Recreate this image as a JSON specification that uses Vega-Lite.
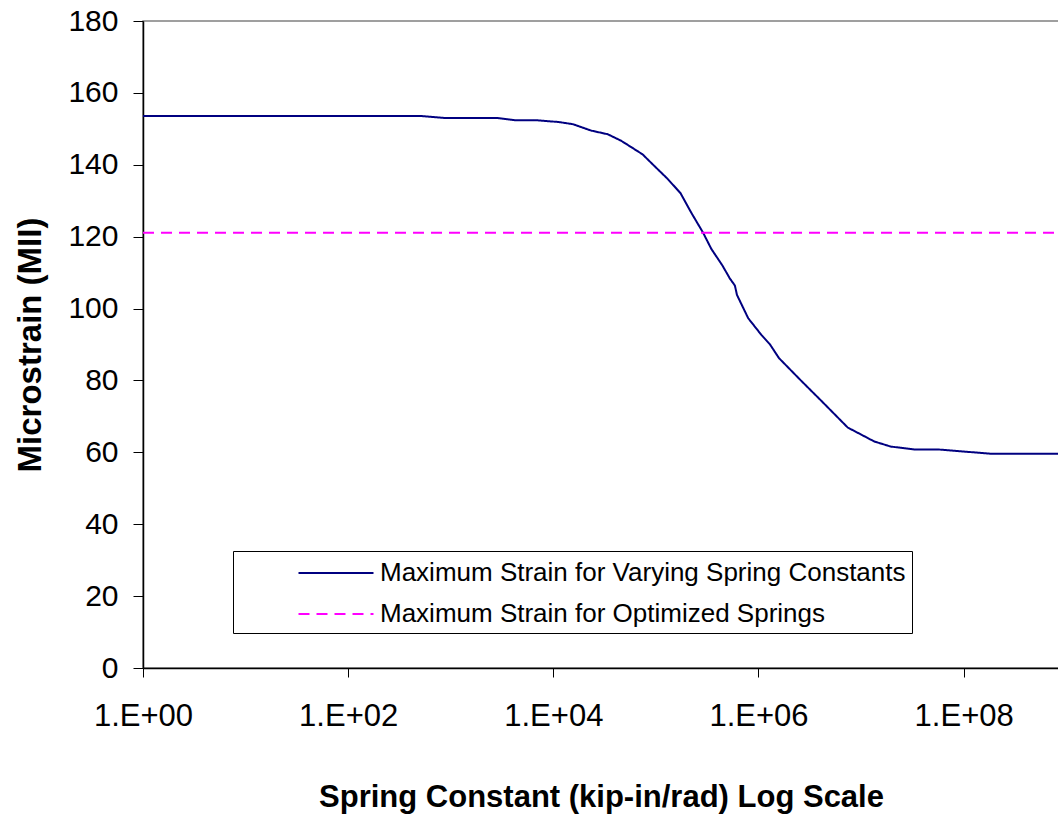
{
  "$schema": "https://vega.github.io/schema/vega-lite/v6.json",
  "width": 916,
  "height": 647,
  "autosize": {"type": "none"},
  "padding": {"left": 143, "top": 21, "right": 0, "bottom": 150},
  "background": "white",
  "config": {
    "view": {"stroke": "#808080", "strokeWidth": 1.5},
    "font": "Liberation Sans",
    "axis": {"grid": false, "domainColor": "#000", "tickColor": "#000", "labelColor": "#000", "titleColor": "#000", "labelFont": "Liberation Sans", "titleFont": "Liberation Sans"}
  },
  "data": {"values": [
    {"k": 1, "v": 153.6, "series": "Maximum Strain for Varying Spring Constants"},
    {"k": 10, "v": 153.6, "series": "Maximum Strain for Varying Spring Constants"},
    {"k": 100, "v": 153.6, "series": "Maximum Strain for Varying Spring Constants"},
    {"k": 501, "v": 153.6, "series": "Maximum Strain for Varying Spring Constants"},
    {"k": 891, "v": 153.0, "series": "Maximum Strain for Varying Spring Constants"},
    {"k": 2884, "v": 153.0, "series": "Maximum Strain for Varying Spring Constants"},
    {"k": 4266, "v": 152.4, "series": "Maximum Strain for Varying Spring Constants"},
    {"k": 6761, "v": 152.4, "series": "Maximum Strain for Varying Spring Constants"},
    {"k": 11220, "v": 151.9, "series": "Maximum Strain for Varying Spring Constants"},
    {"k": 15488, "v": 151.3, "series": "Maximum Strain for Varying Spring Constants"},
    {"k": 23442, "v": 149.5, "series": "Maximum Strain for Varying Spring Constants"},
    {"k": 33884, "v": 148.5, "series": "Maximum Strain for Varying Spring Constants"},
    {"k": 45709, "v": 146.7, "series": "Maximum Strain for Varying Spring Constants"},
    {"k": 57544, "v": 144.9, "series": "Maximum Strain for Varying Spring Constants"},
    {"k": 74131, "v": 142.9, "series": "Maximum Strain for Varying Spring Constants"},
    {"k": 95499, "v": 139.8, "series": "Maximum Strain for Varying Spring Constants"},
    {"k": 128825, "v": 136.2, "series": "Maximum Strain for Varying Spring Constants"},
    {"k": 173780, "v": 132.1, "series": "Maximum Strain for Varying Spring Constants"},
    {"k": 218776, "v": 126.9, "series": "Maximum Strain for Varying Spring Constants"},
    {"k": 288403, "v": 121.1, "series": "Maximum Strain for Varying Spring Constants"},
    {"k": 346737, "v": 116.6, "series": "Maximum Strain for Varying Spring Constants"},
    {"k": 446684, "v": 111.9, "series": "Maximum Strain for Varying Spring Constants"},
    {"k": 524807, "v": 108.4, "series": "Maximum Strain for Varying Spring Constants"},
    {"k": 588844, "v": 106.4, "series": "Maximum Strain for Varying Spring Constants"},
    {"k": 616595, "v": 103.8, "series": "Maximum Strain for Varying Spring Constants"},
    {"k": 794328, "v": 97.3, "series": "Maximum Strain for Varying Spring Constants"},
    {"k": 1071519, "v": 92.6, "series": "Maximum Strain for Varying Spring Constants"},
    {"k": 1288250, "v": 90.1, "series": "Maximum Strain for Varying Spring Constants"},
    {"k": 1584893, "v": 86.2, "series": "Maximum Strain for Varying Spring Constants"},
    {"k": 2630268, "v": 79.8, "series": "Maximum Strain for Varying Spring Constants"},
    {"k": 4073803, "v": 74.4, "series": "Maximum Strain for Varying Spring Constants"},
    {"k": 7413102, "v": 66.9, "series": "Maximum Strain for Varying Spring Constants"},
    {"k": 13489629, "v": 63.0, "series": "Maximum Strain for Varying Spring Constants"},
    {"k": 19498446, "v": 61.6, "series": "Maximum Strain for Varying Spring Constants"},
    {"k": 33113112, "v": 60.8, "series": "Maximum Strain for Varying Spring Constants"},
    {"k": 56234133, "v": 60.8, "series": "Maximum Strain for Varying Spring Constants"},
    {"k": 186208714, "v": 59.6, "series": "Maximum Strain for Varying Spring Constants"},
    {"k": 850000000, "v": 59.6, "series": "Maximum Strain for Varying Spring Constants"},
    {"k": 1, "v": 121.1, "series": "Maximum Strain for Optimized Springs"},
    {"k": 850000000, "v": 121.1, "series": "Maximum Strain for Optimized Springs"}
  ]},
  "mark": {"type": "line", "strokeWidth": 2, "clip": true},
  "encoding": {
    "x": {
      "field": "k", "type": "quantitative",
      "scale": {"type": "log", "domain": [1, 850000000], "nice": false},
      "axis": {
        "values": [1, 100, 10000, 1000000, 100000000],
        "labelExpr": "'1.E+' + format(round(log(datum.value)/LN10), '02d')",
        "labelFlush": false, "labelOverlap": false,
        "tickSize": 9, "labelPadding": 24, "labelFontSize": 31,
        "title": "Spring Constant (kip-in/rad) Log Scale",
        "titleFontSize": 31, "titleFontWeight": "bold", "titlePadding": 51,
        "domainWidth": 1.5
      }
    },
    "y": {
      "field": "v", "type": "quantitative",
      "scale": {"domain": [0, 180], "nice": false},
      "axis": {
        "values": [0, 20, 40, 60, 80, 100, 120, 140, 160, 180],
        "tickSize": 10, "labelPadding": 15, "labelFontSize": 30,
        "title": "Microstrain (MII)", "titleFontSize": 33, "titleFontWeight": "bold",
        "titlePadding": 20, "domainWidth": 1.5
      }
    },
    "color": {
      "field": "series", "type": "nominal",
      "sort": ["Maximum Strain for Varying Spring Constants", "Maximum Strain for Optimized Springs"],
      "scale": {"domain": ["Maximum Strain for Varying Spring Constants", "Maximum Strain for Optimized Springs"], "range": ["#000080", "#FF00FF"]},
      "legend": {
        "title": null, "orient": "none", "legendX": 90, "legendY": 530,
        "direction": "vertical",
        "symbolType": "M-2.5,0H2.5", "symbolSize": 900, "symbolStrokeWidth": 2,
        "symbolOffset": 81, "labelOffset": 28,
        "rowPadding": 12,
        "labelFontSize": 26, "labelFont": "Liberation Sans", "labelColor": "#000",
        "labelLimit": 800,
        "strokeColor": "#000", "fillColor": "white", "padding": 6
      }
    },
    "strokeDash": {
      "field": "series", "type": "nominal",
      "sort": ["Maximum Strain for Varying Spring Constants", "Maximum Strain for Optimized Springs"],
      "scale": {"domain": ["Maximum Strain for Varying Spring Constants", "Maximum Strain for Optimized Springs"], "range": [[1, 0], [11, 7]]},
      "legend": null
    }
  }
}
